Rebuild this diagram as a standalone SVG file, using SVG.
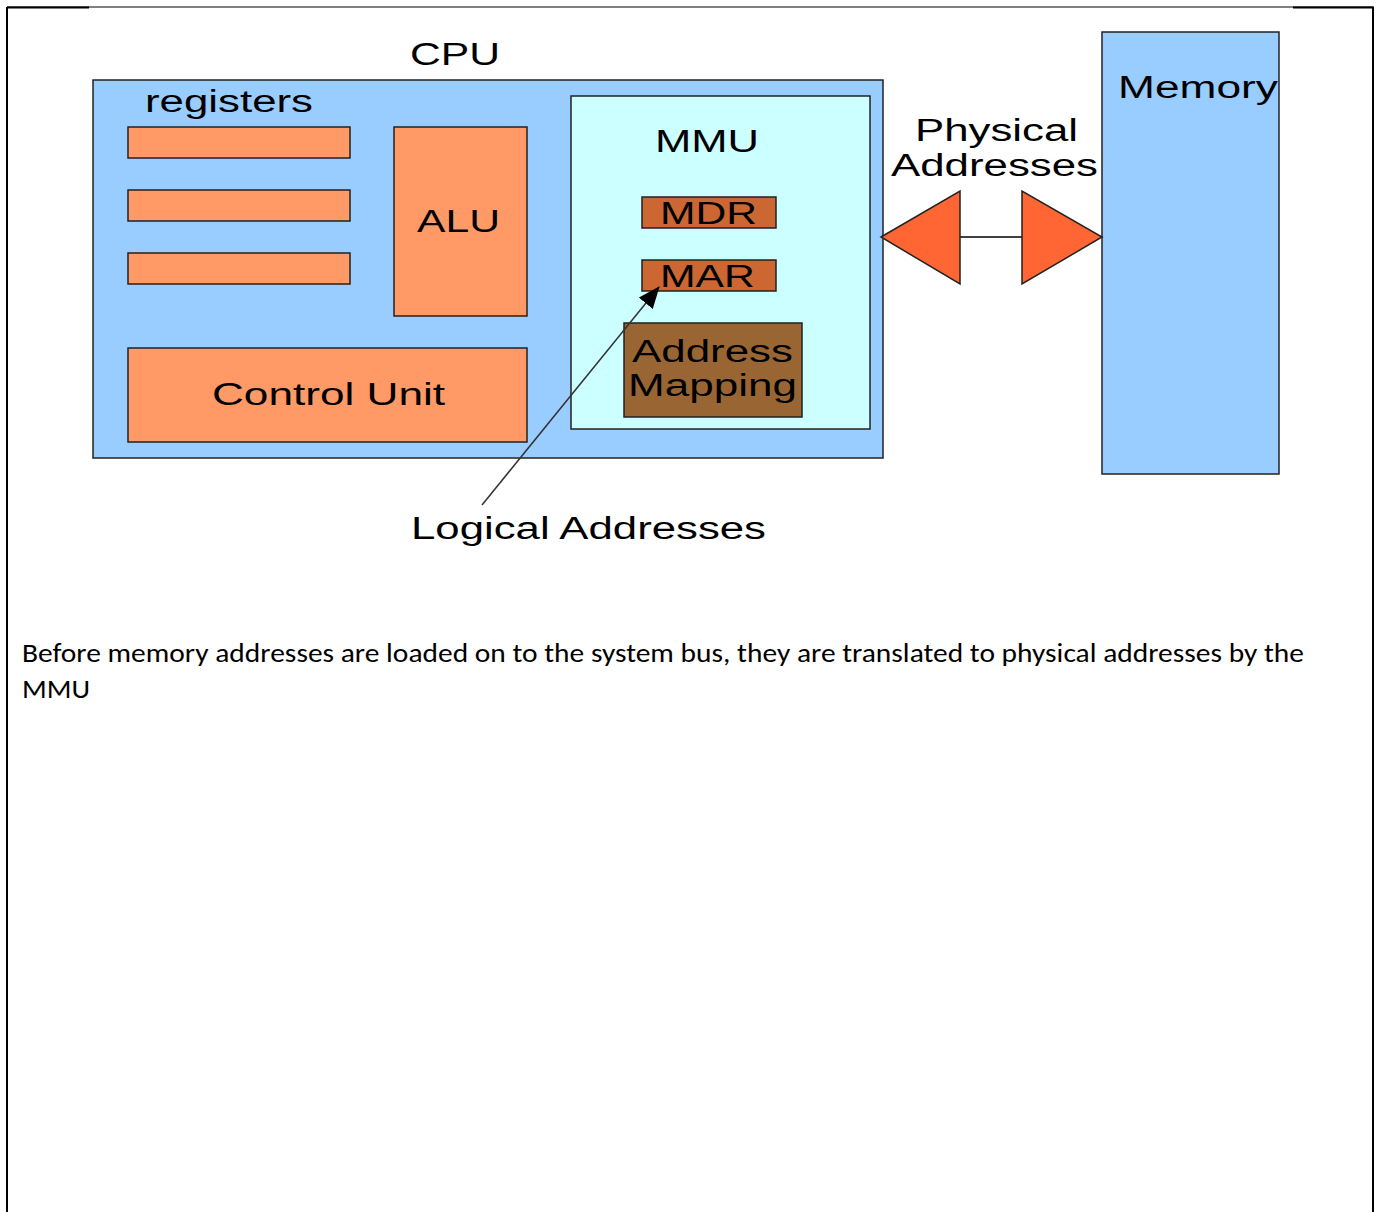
<svg xmlns="http://www.w3.org/2000/svg" width="1381" height="1212" viewBox="0 0 1381 1212">
<style>
.t{font-family:"Liberation Sans",Arial,sans-serif;font-size:31px;fill:#000}
.b{stroke:#222;stroke-width:1.5}
.reg{fill:#ff9966}
.p{font-family:Carlito,"Open Sans","Liberation Sans",sans-serif;font-size:26px;fill:#000}
</style>
<defs>
<marker id="ah" markerWidth="22" markerHeight="18" refX="21" refY="9" orient="auto" markerUnits="userSpaceOnUse" viewBox="0 0 22 18">
<path d="M0,0 L22,9 L0,18 z" fill="#000"/>
</marker>
</defs>
<rect width="1381" height="1212" fill="#fff"/>
<g id="frame" fill="none" stroke="#000">
<path d="M7,7 H1373" stroke-width="1"/>
<path d="M7,7.5 H89 M1293,7.5 H1374" stroke-width="2"/>
<path d="M7,7 V1212 M1373,7 V1212" stroke-width="2"/>
</g>
<g id="cpu">
<rect x="93" y="80" width="790" height="378" fill="#99ccff" class="b"/>
<text class="t" x="410" y="65" textLength="90" lengthAdjust="spacingAndGlyphs">CPU</text>
</g>
<g id="registers">
<text class="t" x="145" y="112" textLength="168" lengthAdjust="spacingAndGlyphs">registers</text>
<rect x="128" y="127" width="222" height="31" class="b reg"/>
<rect x="128" y="190" width="222" height="31" class="b reg"/>
<rect x="128" y="253" width="222" height="31" class="b reg"/>
</g>
<g id="alu">
<rect x="394" y="127" width="133" height="189" class="b reg"/>
<text class="t" x="417" y="232" textLength="83" lengthAdjust="spacingAndGlyphs">ALU</text>
</g>
<g id="control-unit">
<rect x="128" y="348" width="399" height="94" class="b reg"/>
<text class="t" x="212" y="405" textLength="233" lengthAdjust="spacingAndGlyphs">Control Unit</text>
</g>
<g id="mmu">
<rect x="571" y="96" width="299" height="333" fill="#ccffff" class="b"/>
<text class="t" x="655" y="152" textLength="104" lengthAdjust="spacingAndGlyphs">MMU</text>
</g>
<g id="mdr">
<rect x="642" y="197" width="134" height="31" fill="#cc6633" class="b"/>
<text class="t" x="660" y="224" textLength="97" lengthAdjust="spacingAndGlyphs">MDR</text>
</g>
<g id="mar">
<rect x="642" y="260" width="134" height="31" fill="#cc6633" class="b"/>
<text class="t" x="660" y="287" textLength="95" lengthAdjust="spacingAndGlyphs">MAR</text>
</g>
<g id="address-mapping">
<rect x="624" y="323" width="178" height="94" fill="#996633" class="b"/>
<text class="t" x="632" y="362" textLength="161" lengthAdjust="spacingAndGlyphs">Address</text>
<text class="t" x="628" y="396" textLength="169" lengthAdjust="spacingAndGlyphs">Mapping</text>
</g>
<g id="memory">
<rect x="1102" y="32" width="177" height="442" fill="#99ccff" class="b"/>
<text class="t" x="1118" y="98" textLength="160" lengthAdjust="spacingAndGlyphs">Memory</text>
</g>
<g id="physical-addresses">
<text class="t" x="915" y="141" textLength="163" lengthAdjust="spacingAndGlyphs">Physical</text>
<text class="t" x="891" y="176" textLength="207" lengthAdjust="spacingAndGlyphs">Addresses</text>
</g>
<g id="logical-addresses">
<text class="t" x="411" y="539" textLength="355" lengthAdjust="spacingAndGlyphs">Logical Addresses</text>
</g>
<g id="connectors">
<line x1="960" y1="237" x2="1022" y2="237" stroke="#000" stroke-width="1.5"/>
<polygon points="881,237 960,191 960,284" fill="#ff6633" class="b"/>
<polygon points="1022,191 1022,284 1102,237" fill="#ff6633" class="b"/>
<line x1="482" y1="505" x2="659" y2="287" stroke="#333" stroke-width="1.5" marker-end="url(#ah)"/>
</g>
<g id="caption">
<text class="p" x="22" y="662" textLength="1282" lengthAdjust="spacingAndGlyphs">Before memory addresses are loaded on to the system bus, they are translated to physical addresses by the</text>
<text class="p" x="22" y="698" textLength="68" lengthAdjust="spacingAndGlyphs">MMU</text>
</g>
</svg>
